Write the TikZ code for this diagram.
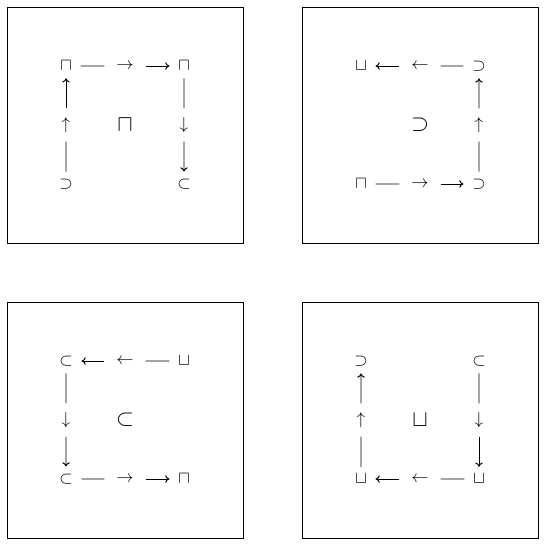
\documentclass[tikz,border=0pt]{standalone}
\usepackage{amsmath, amssymb}
\usepackage{tikz}
\usetikzlibrary{arrows.meta}
\tikzset{
  panelbox/.style={draw, line width=0.65pt},
  cornernode/.style={scale=1.15, inner xsep=4.8pt, inner ysep=4pt},
  midnode/.style={scale=1.15, inner xsep=6.6pt, inner ysep=4.9pt},
  centernode/.style={font=\Large, scale=1.07},
  tipline/.style={-{To[length=2.8pt, width=5pt]}}
}
\begin{document}
\begin{tikzpicture}[x=0.6667pt, y=-0.6667pt, line width=0.65pt]
  \useasboundingbox (0,0) rectangle (546,546);
  % frames
  \draw[panelbox] (7,7) rectangle (243,243);
  \draw[panelbox] (302,7) rectangle (538,243);
  \draw[panelbox] (7,302) rectangle (243,538);
  \draw[panelbox] (302,302) rectangle (538,538);

  % panel 1
  \node[cornernode] (tl1) at (66,66) {$\sqcap$};
  \node[cornernode] (tr1) at (184,66) {$\sqcap$};
  \node[cornernode] (bl1) at (66,184) {$\supset$};
  \node[cornernode] (br1) at (184,184) {$\subset$};
  \node[centernode] (c1) at (125,125) {$\sqcap$};
  \node[midnode] (l1) at (66,125) {$\uparrow$};
  \node[midnode] (t1) at (125,66) {$\to$};
  \node[midnode] (r1) at (184,125) {$\downarrow$};
  \draw (bl1) -- (l1);
  \draw[tipline] (l1) -- (tl1);
  \draw (tl1) -- (t1);
  \draw[tipline] (t1) -- (tr1);
  \draw (tr1) -- (r1);
  \draw[tipline] (r1) -- (br1);

  % panel 2
  \node[cornernode] (tl2) at (361,66) {$\sqcup$};
  \node[cornernode] (tr2) at (479,66) {$\supset$};
  \node[cornernode] (bl2) at (361,184) {$\sqcap$};
  \node[cornernode] (br2) at (479,184) {$\supset$};
  \node[centernode] (c2) at (420,125) {$\supset$};
  \node[midnode] (t2) at (420,66) {$\leftarrow$};
  \node[midnode] (r2) at (479,125) {$\uparrow$};
  \node[midnode] (b2) at (420,184) {$\to$};
  \draw (br2) -- (r2);
  \draw[tipline] (r2) -- (tr2);
  \draw (tr2) -- (t2);
  \draw[tipline] (t2) -- (tl2);
  \draw (bl2) -- (b2);
  \draw[tipline] (b2) -- (br2);

  % panel 3
  \node[cornernode] (tl3) at (66,361) {$\subset$};
  \node[cornernode] (tr3) at (184,361) {$\sqcup$};
  \node[cornernode] (bl3) at (66,479) {$\subset$};
  \node[cornernode] (br3) at (184,479) {$\sqcap$};
  \node[centernode] (c3) at (125,420) {$\subset$};
  \node[midnode] (t3) at (125,361) {$\leftarrow$};
  \node[midnode] (l3) at (66,420) {$\downarrow$};
  \node[midnode] (b3) at (125,479) {$\to$};
  \draw (tr3) -- (t3);
  \draw[tipline] (t3) -- (tl3);
  \draw (tl3) -- (l3);
  \draw[tipline] (l3) -- (bl3);
  \draw (bl3) -- (b3);
  \draw[tipline] (b3) -- (br3);

  % panel 4
  \node[cornernode] (tl4) at (361,361) {$\supset$};
  \node[cornernode] (tr4) at (479,361) {$\subset$};
  \node[cornernode] (bl4) at (361,479) {$\sqcup$};
  \node[cornernode] (br4) at (479,479) {$\sqcup$};
  \node[centernode] (c4) at (420,420) {$\sqcup$};
  \node[midnode] (r4) at (479,420) {$\downarrow$};
  \node[midnode] (b4) at (420,479) {$\leftarrow$};
  \node[midnode] (l4) at (361,420) {$\uparrow$};
  \draw (tr4) -- (r4);
  \draw[tipline] (r4) -- (br4);
  \draw (br4) -- (b4);
  \draw[tipline] (b4) -- (bl4);
  \draw (bl4) -- (l4);
  \draw[tipline] (l4) -- (tl4);
\end{tikzpicture}
\end{document}
